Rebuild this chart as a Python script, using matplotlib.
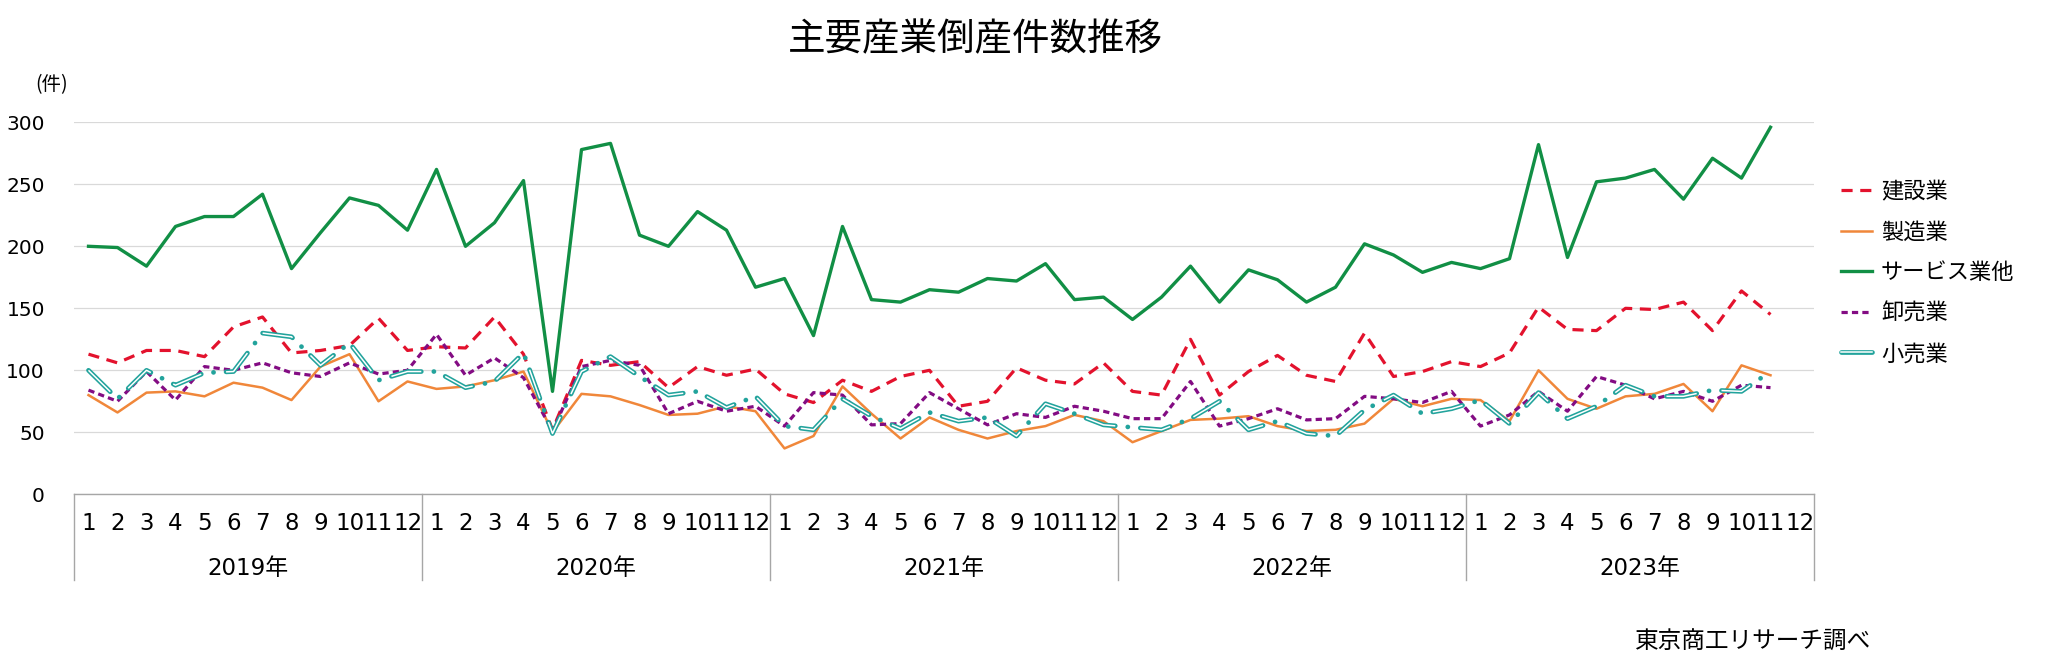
import numpy as np
import matplotlib
matplotlib.use("Agg")
import matplotlib.pyplot as plt
from matplotlib.lines import Line2D
from matplotlib.legend_handler import HandlerTuple

plt.rcParams['font.family'] = ['Noto Sans CJK JP', 'DejaVu Sans']
plt.rcParams['lines.scale_dashes'] = False
NUM_FONT = ['DejaVu Sans', 'Noto Sans CJK JP']

# ---------------- data ----------------
years = ["2019年", "2020年", "2021年", "2022年", "2023年"]
months = [str(m) for m in range(1, 13)]

construction = [113, 106, 116, 116, 111, 135, 143, 114, 116, 120, 142, 116,
                119, 118, 143, 113, 52, 108, 104, 107, 86, 103, 96, 101,
                81, 74, 92, 83, 95, 100, 71, 75, 102, 92, 89, 106,
                83, 80, 125, 80, 99, 112, 96, 91, 130, 95, 99, 107,
                103, 114, 151, 133, 132, 150, 149, 155, 132, 164, 145]
manufacturing = [80, 66, 82, 83, 79, 90, 86, 76, 103, 113, 75, 91,
                 85, 87, 92, 99, 50, 81, 79, 72, 64, 65, 71, 67,
                 37, 47, 87, 65, 45, 62, 52, 45, 51, 55, 64, 59,
                 42, 51, 60, 61, 63, 55, 51, 52, 57, 77, 71, 77,
                 76, 59, 100, 77, 69, 79, 81, 89, 67, 104, 96]
service = [200, 199, 184, 216, 224, 224, 242, 182, 211, 239, 233, 213,
           262, 200, 219, 253, 83, 278, 283, 209, 200, 228, 213, 167,
           174, 128, 216, 157, 155, 165, 163, 174, 172, 186, 157, 159,
           141, 159, 184, 155, 181, 173, 155, 167, 202, 193, 179, 187,
           182, 190, 282, 191, 252, 255, 262, 238, 271, 255, 296]
wholesale = [84, 75, 99, 76, 103, 100, 106, 98, 95, 106, 97, 100,
             129, 96, 110, 94, 51, 103, 108, 104, 65, 75, 67, 71,
             55, 82, 80, 56, 57, 82, 69, 56, 65, 62, 71, 67,
             61, 61, 91, 55, 61, 69, 60, 61, 79, 77, 74, 83,
             55, 64, 83, 67, 95, 88, 77, 83, 75, 88, 86]
retail = [100, 77, 100, 88, 98, 99, 130, 127, 104, 122, 92, 99,
          99, 86, 91, 114, 49, 99, 111, 95, 80, 83, 70, 79,
          55, 52, 77, 63, 53, 66, 59, 62, 47, 73, 65, 56,
          54, 52, 61, 75, 52, 59, 49, 47, 68, 80, 65, 69,
          76, 57, 82, 61, 71, 88, 79, 79, 84, 83, 99]

names = ["建設業", "製造業", "サービス業他", "卸売業", "小売業"]
c_red, c_orange, c_green, c_purple, c_teal = "#E3122D", "#F0873A", "#118F45", "#830C83", "#22A39C"

# ---------------- figure ----------------
W, H = 2049, 661
fig = plt.figure(figsize=(W / 100, H / 100), dpi=100)
ax_l, ax_r, ax_t, ax_b = 74, 1814, 122.3, 494.3
ax = fig.add_axes([ax_l / W, 1 - ax_b / H, (ax_r - ax_l) / W, (ax_b - ax_t) / H])

n_cat = len(years) * len(months)
x = np.arange(len(construction))

ax.plot(x, service, color=c_green, lw=2.4, solid_joinstyle='round', zorder=3)
ax.plot(x, construction, color=c_red, lw=2.3, linestyle=(0, (8, 5.5)), zorder=4)
ax.plot(x, manufacturing, color=c_orange, lw=1.8, solid_joinstyle='round', zorder=3)
ax.plot(x, wholesale, color=c_purple, lw=2.3, linestyle=(0, (4.5, 3)), zorder=4)
# double line (compound) with long-dash-dot pattern
ax.plot(x, retail, color=c_teal, lw=3.4, linestyle=(0, (22, 9, 0.1, 9)),
        dash_capstyle='round', dash_joinstyle='round', zorder=5)
ax.plot(x, retail, color="white", lw=1.1, linestyle=(0, (22, 18.1)),
        dash_capstyle='butt', zorder=6)

ax.set_xlim(-0.5, n_cat - 0.5)
ax.set_ylim(0, 300)
ax.set_yticks(np.arange(0, 301, 50))
ax.yaxis.grid(True, color="#D9D9D9", lw=0.9)
ax.set_axisbelow(True)
for s in ["left", "right", "top"]:
    ax.spines[s].set_visible(False)
ax.spines["bottom"].set_color("#A6A6A6")
ax.spines["bottom"].set_linewidth(1.0)
ax.tick_params(axis="y", length=0, pad=21)
for t in ax.get_yticklabels():
    t.set_fontfamily(NUM_FONT)
    t.set_fontsize(14.5)

ax.set_xticks(np.arange(n_cat))
ax.set_xticklabels(months * len(years))
ax.tick_params(axis="x", length=0, pad=13)
for t in ax.get_xticklabels():
    t.set_fontfamily(NUM_FONT)
    t.set_fontsize(16.5)

trans = ax.get_xaxis_transform()
axh = ax_b - ax_t
for k in range(len(years) + 1):
    xb = k * 12 - 0.5
    ax.plot([xb, xb], [0, -85.7 / axh], transform=trans, color="#A6A6A6",
            lw=1.0, clip_on=False)
for k, yl in enumerate(years):
    ax.text(k * 12 + 5.5, -74.5 / axh, yl, transform=trans, ha="center",
            va="center", fontsize=16.5, family=NUM_FONT)

# legend
proxies = [
    Line2D([], [], color=c_red, lw=2.3, linestyle=(0, (8, 5.5))),
    Line2D([], [], color=c_orange, lw=1.8),
    Line2D([], [], color=c_green, lw=2.4),
    Line2D([], [], color=c_purple, lw=2.3, linestyle=(0, (4.5, 3))),
    (Line2D([], [], color=c_teal, lw=3.4, solid_capstyle='round'),
     Line2D([], [], color="white", lw=1.1)),
]
ax.legend(proxies, names, loc="upper left", bbox_to_anchor=(1841 / W, 1 - 180 / H),
          bbox_transform=fig.transFigure, frameon=False, fontsize=16,
          handlelength=1.4, handletextpad=0.4, labelspacing=0.79,
          borderpad=0, borderaxespad=0,
          handler_map={tuple: HandlerTuple(ndivide=1)})

fig.text(975.5 / W, 1 - 40 / H, "主要産業倒産件数推移", ha="center", va="center", fontsize=27)
fig.text(51.5 / W, 1 - 85 / H, "(件)", ha="center", va="center", fontsize=14)
fig.text(1635 / W, 1 - 642 / H, "東京商工リサーチ調べ", ha="left", va="center", fontsize=17)

fig.savefig("out.png", dpi=100)
